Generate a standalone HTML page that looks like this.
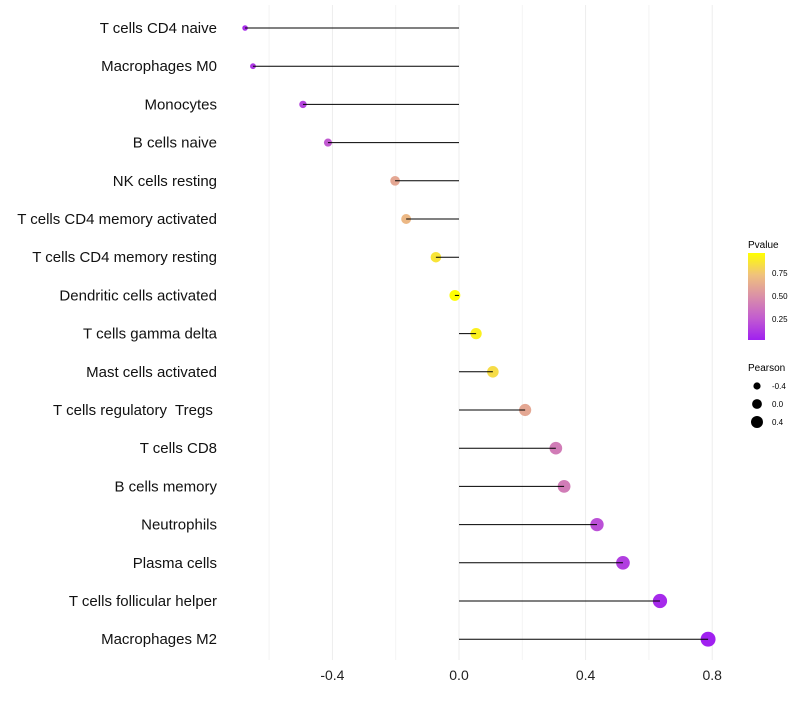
<!DOCTYPE html>
<html><head><meta charset="utf-8"><style>
body{margin:0;background:#fff;font-family:"Liberation Sans",sans-serif}
</style></head><body>
<svg id="chart" width="800" height="700" xmlns="http://www.w3.org/2000/svg">
<defs><linearGradient id="pg" x1="0" y1="1" x2="0" y2="0">
<stop offset="0" stop-color="#A020F0"/><stop offset="0.25" stop-color="#C25CD0"/><stop offset="0.5" stop-color="#DA8FA8"/><stop offset="0.75" stop-color="#F0C27C"/><stop offset="1" stop-color="#FFFF00"/></linearGradient></defs>
<g id="grid"></g><g id="marks"></g><g id="labels"></g>
<g>
<text x="748" y="248" font-size="10">Pvalue</text>
<rect x="748" y="253" width="17" height="87" fill="url(#pg)"/>
<text x="772" y="276" font-size="8">0.75</text>
<text x="772" y="299" font-size="8">0.50</text>
<text x="772" y="322" font-size="8">0.25</text>
</g>
<g>
<text x="748" y="371" font-size="10">Pearson</text>
<circle cx="757" cy="386" r="3.6" fill="#000"/>
<circle cx="757" cy="404" r="4.9" fill="#000"/>
<circle cx="757" cy="422" r="6" fill="#000"/>
<text x="772" y="389" font-size="8">-0.4</text>
<text x="772" y="407" font-size="8">0.0</text>
<text x="772" y="425" font-size="8">0.4</text>
</g>
</svg>
<script>
const categories=["T cells CD4 naive","Macrophages M0","Monocytes","B cells naive","NK cells resting","T cells CD4 memory activated","T cells CD4 memory resting","Dendritic cells activated","T cells gamma delta","Mast cells activated","T cells regulatory  Tregs ","T cells CD8","B cells memory","Neutrophils","Plasma cells","T cells follicular helper","Macrophages M2"];
const pearson=[-0.676,-0.651,-0.493,-0.414,-0.202,-0.167,-0.073,-0.013,0.054,0.107,0.209,0.306,0.332,0.436,0.518,0.635,0.787];
const pvalues=[0.06,0.1,0.15,0.24,0.6,0.68,0.86,0.967,0.91,0.83,0.6,0.4,0.4,0.2,0.13,0.05,0.01];
const xTicks=[-0.4,0,0.4,0.8];
const xMinor=[-0.6,-0.2,0.2,0.6];
const NS="http://www.w3.org/2000/svg";
const x=v=>459+v*316.5;
const y=i=>28+i*38.2;
const pmin=0.01,pmax=0.967;
const stops=[[0,[160,32,240]],[0.25,[194,92,208]],[0.5,[218,143,168]],[0.75,[240,194,124]],[1,[255,255,0]]];
function col(p){let t=(p-pmin)/(pmax-pmin);t=Math.max(0,Math.min(1,t));for(let k=0;k<stops.length-1;k++){const a=stops[k],b=stops[k+1];if(t<=b[0]){const f=(t-a[0])/(b[0]-a[0]);return "rgb("+a[1].map((c,j)=>Math.round(c+(b[1][j]-c)*f)).join(",")+")";}}return "rgb(255,255,0)";}
const r=v=>Math.sqrt(Math.max(2,30+33*v));
function el(tag,attrs,parent){const e=document.createElementNS(NS,tag);for(const k in attrs)e.setAttribute(k,attrs[k]);parent.appendChild(e);return e;}
const grid=document.getElementById('grid'),marks=document.getElementById('marks'),labels=document.getElementById('labels');
xMinor.forEach(v=>{const l=el('line',{x1:x(v),x2:x(v),y1:5,y2:660,stroke:'#f4f4f4','stroke-width':1},grid);

});
xTicks.forEach(v=>{const l=el('line',{x1:x(v),x2:x(v),y1:5,y2:660,stroke:'#ededed','stroke-width':1},grid);


const t=el('text',{x:x(v),y:680,'font-size':14,'text-anchor':'middle',fill:'#222'},labels);t.textContent=v===0?"0.0":v.toFixed(1);

});
categories.forEach((c,i)=>{
const d=el('circle',{cx:x(pearson[i]),cy:y(i),r:r(pearson[i]),fill:col(pvalues[i])},marks);


const s=el('line',{x1:x(0),x2:x(pearson[i]),y1:y(i),y2:y(i),stroke:'#000','stroke-width':1},marks);


const t=el('text',{x:217,y:y(i)+5,'font-size':15,'text-anchor':'end',fill:'#111'},labels);t.textContent=c;t.style.whiteSpace='pre';


});
</script>
</body></html>
